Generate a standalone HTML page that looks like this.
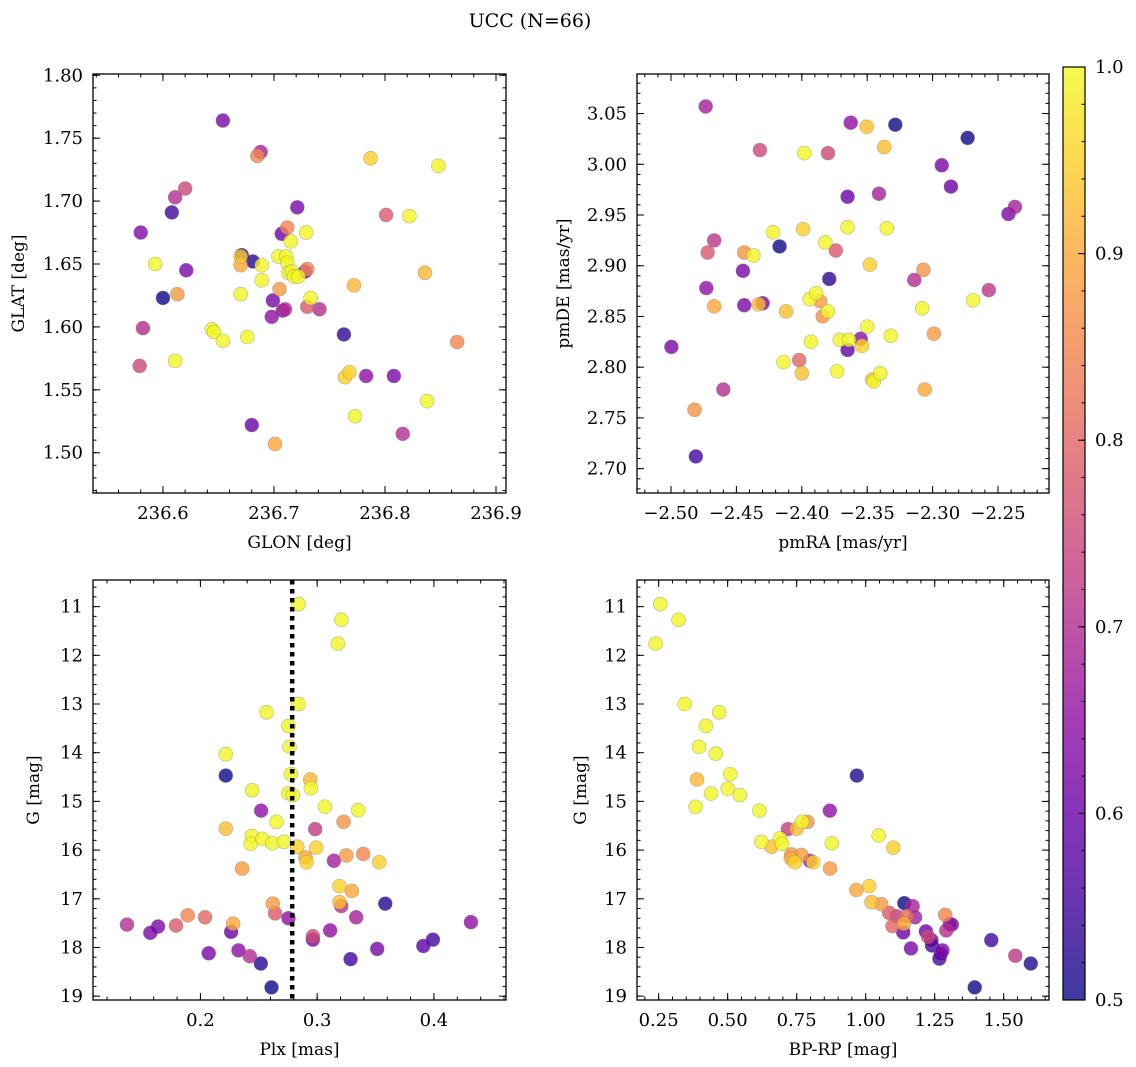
<!DOCTYPE html>
<html><head><meta charset="utf-8"><style>
html,body{margin:0;padding:0;background:#fff;}
svg{display:block;font-family:"DejaVu Serif","Liberation Serif",serif;}
</style></head><body>
<svg id="fig" width="1136" height="1067" viewBox="0 0 1136 1067" xmlns="http://www.w3.org/2000/svg">
<defs>
<linearGradient id="cbgrad" x1="0" y1="1" x2="0" y2="0">
<stop offset="0" stop-color="#0d0887"/><stop offset="0.1" stop-color="#41049d"/><stop offset="0.2" stop-color="#6a00a8"/><stop offset="0.3" stop-color="#8f0da4"/><stop offset="0.4" stop-color="#b12a90"/><stop offset="0.5" stop-color="#cc4778"/><stop offset="0.6" stop-color="#e16462"/><stop offset="0.7" stop-color="#f2844b"/><stop offset="0.8" stop-color="#fca636"/><stop offset="0.9" stop-color="#fcce25"/><stop offset="1" stop-color="#f0f921"/>
</linearGradient>
</defs>
<text x="530" y="27" font-size="19" text-anchor="middle">UCC (N=66)</text>
</svg>
<script>
// ---- Panel 1: GLON vs GLAT ----
const glon=[236.654,236.688,236.685,236.787,236.848,236.620,236.611,236.608,236.580,236.721,236.801,236.822,236.712,236.707,236.729,236.715,236.671,236.670,236.704,236.711,236.712,236.681,236.689,236.670,236.593,236.621,236.730,236.728,236.713,236.716,236.718,236.722,236.689,236.836,236.772,236.600,236.613,236.705,236.670,236.733,236.699,236.730,236.741,236.710,236.708,236.698,236.582,236.644,236.646,236.654,236.676,236.763,236.865,236.611,236.579,236.764,236.768,236.783,236.808,236.838,236.773,236.816,236.680,236.701];
const glat=[1.764,1.739,1.736,1.734,1.728,1.710,1.703,1.691,1.675,1.695,1.689,1.688,1.679,1.674,1.675,1.668,1.657,1.656,1.656,1.656,1.651,1.652,1.649,1.649,1.650,1.645,1.646,1.644,1.643,1.644,1.640,1.640,1.637,1.643,1.633,1.623,1.626,1.630,1.626,1.623,1.621,1.616,1.614,1.614,1.613,1.608,1.599,1.598,1.596,1.589,1.592,1.594,1.588,1.573,1.569,1.560,1.564,1.561,1.561,1.541,1.529,1.515,1.522,1.507];
const prob1=[0.62,0.68,0.85,0.95,0.995,0.75,0.7,0.55,0.63,0.62,0.78,0.995,0.85,0.6,0.995,0.995,0.52,0.95,0.995,0.995,0.995,0.52,0.995,0.9,0.995,0.62,0.85,0.62,0.995,0.995,0.995,0.995,0.995,0.92,0.92,0.5,0.88,0.88,0.995,0.995,0.62,0.78,0.7,0.7,0.62,0.65,0.7,0.995,0.995,0.995,0.995,0.53,0.85,0.995,0.75,0.95,0.95,0.65,0.62,0.995,0.995,0.7,0.6,0.9];
// ---- Panel 2: pmRA vs pmDE ----
const pmra=[-2.4735,-2.3626,-2.3504,-2.3285,-2.2732,-2.432,-2.398,-2.380,-2.337,-2.293,-2.286,-2.365,-2.341,-2.237,-2.242,-2.422,-2.399,-2.365,-2.335,-2.467,-2.472,-2.444,-2.437,-2.417,-2.382,-2.374,-2.348,-2.307,-2.445,-2.379,-2.314,-2.473,-2.257,-2.394,-2.389,-2.386,-2.269,-2.467,-2.444,-2.430,-2.433,-2.412,-2.380,-2.384,-2.308,-2.350,-2.332,-2.299,-2.4997,-2.393,-2.371,-2.364,-2.355,-2.354,-2.365,-2.414,-2.402,-2.400,-2.373,-2.346,-2.345,-2.340,-2.306,-2.460,-2.482,-2.481];
const pmde=[3.057,3.041,3.037,3.039,3.026,3.014,3.011,3.011,3.017,2.999,2.978,2.968,2.971,2.958,2.951,2.933,2.936,2.938,2.937,2.925,2.913,2.913,2.910,2.919,2.923,2.915,2.901,2.896,2.895,2.887,2.886,2.878,2.876,2.867,2.873,2.865,2.866,2.860,2.861,2.863,2.862,2.855,2.855,2.850,2.858,2.840,2.831,2.833,2.820,2.825,2.827,2.827,2.828,2.821,2.817,2.805,2.807,2.794,2.796,2.788,2.786,2.794,2.778,2.778,2.758,2.712];
const prob2=[0.68,0.65,0.93,0.5,0.5,0.75,0.995,0.75,0.93,0.62,0.6,0.6,0.68,0.68,0.62,0.995,0.95,0.995,0.995,0.72,0.78,0.87,0.995,0.5,0.995,0.78,0.95,0.87,0.62,0.53,0.7,0.65,0.72,0.995,0.995,0.88,0.995,0.9,0.62,0.62,0.93,0.93,0.995,0.87,0.995,0.995,0.995,0.88,0.62,0.995,0.995,0.995,0.65,0.95,0.58,0.995,0.8,0.93,0.995,0.93,0.995,0.995,0.9,0.7,0.87,0.55];
// ---- Panel 3: Plx vs G ----
const plx=[0.284,0.3206,0.3177,0.284,0.2566,0.2754,0.2763,0.2217,0.2217,0.2774,0.294,0.2946,0.2443,0.2754,0.2791,0.3066,0.3351,0.252,0.2651,0.3226,0.2217,0.2983,0.244,0.2431,0.2531,0.2617,0.2714,0.2829,0.2991,0.29,0.2909,0.3249,0.3394,0.3531,0.3143,0.2357,0.3191,0.3297,0.3191,0.3206,0.3583,0.262,0.264,0.2754,0.1891,0.204,0.228,0.3334,0.4317,0.1371,0.1791,0.1637,0.1571,0.2263,0.3111,0.2963,0.2963,0.3991,0.3909,0.3514,0.2071,0.2326,0.2423,0.2517,0.3286,0.2609];
const gmag3=[10.95,11.27,11.76,13.0,13.17,13.45,13.88,14.03,14.47,14.44,14.55,14.73,14.77,14.83,14.87,15.11,15.18,15.19,15.42,15.42,15.56,15.57,15.71,15.87,15.77,15.86,15.83,15.93,15.95,16.15,16.25,16.11,16.08,16.25,16.22,16.38,16.74,16.84,17.07,17.15,17.10,17.10,17.30,17.40,17.34,17.38,17.51,17.38,17.48,17.53,17.55,17.57,17.70,17.68,17.65,17.77,17.84,17.84,17.97,18.03,18.12,18.06,18.18,18.33,18.24,18.82];
const prob3=[0.995,0.995,0.995,0.995,0.995,0.995,0.995,0.995,0.5,0.995,0.92,0.995,0.995,0.995,0.995,0.995,0.995,0.65,0.995,0.87,0.93,0.73,0.995,0.995,0.995,0.995,0.995,0.95,0.95,0.9,0.95,0.88,0.85,0.95,0.68,0.88,0.95,0.9,0.93,0.7,0.52,0.88,0.78,0.65,0.85,0.8,0.9,0.68,0.65,0.7,0.78,0.62,0.62,0.6,0.65,0.75,0.62,0.55,0.58,0.62,0.62,0.65,0.7,0.52,0.55,0.5];
const plxLine=0.2786;
// ---- Panel 4: BP-RP vs G ----
const bprp=[0.256,0.322,0.239,0.344,0.469,0.421,0.396,0.457,0.968,0.509,0.389,0.5,0.44,0.544,0.384,0.615,0.87,0.789,0.77,0.718,0.75,1.047,0.622,0.689,0.697,0.659,0.877,1.1,0.731,0.767,0.729,0.798,0.743,0.81,0.871,0.966,1.013,1.021,1.056,1.14,1.17,1.085,1.112,1.148,1.179,1.097,1.138,1.136,1.288,1.305,1.312,1.292,1.218,1.226,1.238,1.24,1.164,1.278,1.272,1.267,1.455,1.542,1.598,1.395];
const gmag4=[10.95,11.27,11.76,13.0,13.17,13.45,13.88,14.02,14.47,14.44,14.55,14.74,14.84,14.87,15.11,15.19,15.19,15.42,15.42,15.57,15.56,15.70,15.83,15.76,15.87,15.93,15.86,15.95,16.09,16.10,16.17,16.22,16.25,16.25,16.38,16.82,16.74,17.07,17.11,17.09,17.15,17.29,17.36,17.36,17.38,17.56,17.51,17.69,17.33,17.52,17.53,17.65,17.67,17.78,17.85,17.96,18.02,18.06,18.13,18.23,17.85,18.17,18.33,18.82];
const prob4=[0.995,0.995,0.995,0.995,0.995,0.995,0.995,0.995,0.52,0.995,0.92,0.995,0.995,0.995,0.995,0.995,0.65,0.87,0.995,0.73,0.93,0.995,0.995,0.995,0.995,0.93,0.995,0.95,0.88,0.88,0.9,0.68,0.95,0.95,0.88,0.9,0.95,0.93,0.88,0.5,0.68,0.78,0.72,0.82,0.68,0.8,0.9,0.6,0.85,0.65,0.62,0.7,0.6,0.75,0.58,0.55,0.62,0.62,0.58,0.55,0.55,0.72,0.52,0.5];
// ---- Tick labels ----
const t1x=[236.6,236.7,236.8,236.9], t1y=[1.50,1.55,1.60,1.65,1.70,1.75,1.80];
const t2x=[-2.50,-2.45,-2.40,-2.35,-2.30,-2.25], t2y=[2.70,2.75,2.80,2.85,2.90,2.95,3.00,3.05];
const t3x=[0.2,0.3,0.4], tGy=[11,12,13,14,15,16,17,18,19];
const t4x=[0.25,0.50,0.75,1.00,1.25,1.50];
const tcb=[0.5,0.6,0.7,0.8,0.9,1.0];

const NS='http://www.w3.org/2000/svg';
const svg=document.getElementById('fig');
function mk(tag,attrs,parent){const e=document.createElementNS(NS,tag);for(const k in attrs)e.setAttribute(k,attrs[k]);(parent||svg).appendChild(e);return e;}
const stops=[[13,8,135],[65,4,157],[106,0,168],[143,13,164],[177,42,144],[204,71,120],[225,100,98],[242,132,75],[252,166,54],[252,206,37],[240,249,33]];
function plasma(p){let t=(p-0.5)/0.5;t=Math.max(0,Math.min(1,t))*10;const i=Math.min(9,Math.floor(t)),f=t-i;const a=stops[i],b=stops[i+1];return 'rgb('+a.map((v,k)=>Math.round(v+(b[k]-v)*f)).join(',')+')';}

function panel(cfg){
  const {x0,y0,w,h,xmin,xmax,ymin,ymax,invY,xt,yt,xminor,yminor,xfmt,yfmt,xlab,ylab,xs,ys,ps,name,ylabX}=cfg;
  const g=mk('g',{});
  
  
  const sx=v=>x0+(v-xmin)/(xmax-xmin)*w;
  const sy=v=>invY? y0+(v-ymin)/(ymax-ymin)*h : y0+h-(v-ymin)/(ymax-ymin)*h;
  const pts=mk('g',{},g);
  
  
  const order=ps.map((p,i)=>i).sort((a,b)=>ps[a]-ps[b]);
  order.forEach(i=>{
    const c=mk('circle',{cx:sx(xs[i]),cy:sy(ys[i]),r:7,fill:plasma(ps[i]),'fill-opacity':0.8,stroke:'#777','stroke-opacity':0.5,'stroke-width':0.6},pts);
    
    
  });
  if(cfg.vline!==undefined){
    const l=mk('line',{x1:sx(cfg.vline),x2:sx(cfg.vline),y1:y0,y2:y0+h,stroke:'#000','stroke-width':4.5,'stroke-dasharray':'4.5,4.5'},g);
    
    
  }
  const tk=mk('g',{stroke:'#000','stroke-width':1},g);
  
  
  const addX=(v,len)=>{const X=sx(v);if(X<x0-0.1||X>x0+w+0.1)return;mk('line',{x1:X,x2:X,y1:y0+h,y2:y0+h-len},tk);mk('line',{x1:X,x2:X,y1:y0,y2:y0+len},tk);};
  const addY=(v,len)=>{const Y=sy(v);if(Y<y0-0.1||Y>y0+h+0.1)return;mk('line',{x1:x0,x2:x0+len,y1:Y,y2:Y},tk);mk('line',{x1:x0+w,x2:x0+w-len,y1:Y,y2:Y},tk);};
  for(let v=Math.ceil(xmin/xminor)*xminor;v<=xmax;v+=xminor)addX(v,3.5);
  for(let v=Math.ceil(ymin/yminor)*yminor;v<=ymax;v+=yminor)addY(v,3.5);
  xt.forEach(v=>{addX(v,7);const X=sx(v);if(X<x0-1||X>x0+w+30)return;const t=mk('text',{x:X,y:y0+h+26,'font-size':18,'text-anchor':'middle'},g);t.textContent=xfmt(v);});
  yt.forEach(v=>{addY(v,7);const Y=sy(v);if(Y<y0-8||Y>y0+h+8)return;const t=mk('text',{x:x0-10,y:Y+6,'font-size':18,'text-anchor':'end'},g);t.textContent=yfmt(v);});
  const fr=mk('rect',{x:x0,y:y0,width:w,height:h,fill:'none',stroke:'#000','stroke-width':1.3},g);
  
  
  const xl=mk('text',{x:x0+w/2,y:y0+h+55,'font-size':17,'text-anchor':'middle'},g);xl.textContent=xlab;
  
  
  const yl=mk('text',{x:ylabX,y:y0+h/2,'font-size':17,'text-anchor':'middle',transform:'rotate(-90 '+ylabX+' '+(y0+h/2)+')'},g);yl.textContent=ylab;
  
  
}
panel({name:'glon-glat-panel',x0:93,y0:74,w:413,h:419,xmin:236.537,xmax:236.909,ymin:1.468,ymax:1.801,xt:t1x,yt:t1y,xminor:0.02,yminor:0.01,xfmt:v=>v.toFixed(1),yfmt:v=>v.toFixed(2),xlab:'GLON [deg]',ylab:'GLAT [deg]',xs:glon,ys:glat,ps:prob1,ylabX:24});
panel({name:'pm-panel',x0:637,y0:74,w:412,h:419,xmin:-2.526,xmax:-2.211,ymin:2.676,ymax:3.089,xt:t2x,yt:t2y,xminor:0.01,yminor:0.01,xfmt:v=>'\u2212'+Math.abs(v).toFixed(2),yfmt:v=>v.toFixed(2),xlab:'pmRA [mas/yr]',ylab:'pmDE [mas/yr]',xs:pmra,ys:pmde,ps:prob2,ylabX:569});
panel({name:'plx-g-panel',x0:93,y0:580,w:413,h:420,xmin:0.108,xmax:0.4617,ymin:10.453,ymax:19.079,invY:true,xt:t3x,yt:tGy,xminor:0.02,yminor:0.2,xfmt:v=>v.toFixed(1),yfmt:v=>String(v),xlab:'Plx [mas]',ylab:'G [mag]',xs:plx,ys:gmag3,ps:prob3,ylabX:39,vline:plxLine});
panel({name:'cmd-panel',x0:637,y0:580,w:412,h:420,xmin:0.1716,xmax:1.664,ymin:10.453,ymax:19.079,invY:true,xt:t4x,yt:tGy,xminor:0.05,yminor:0.2,xfmt:v=>v.toFixed(2),yfmt:v=>String(v),xlab:'BP-RP [mag]',ylab:'G [mag]',xs:bprp,ys:gmag4,ps:prob4,ylabX:586});
const cbx=1063,cby=67,cbw=22,cbh=933;
const cb=mk('g',{});


mk('rect',{x:cbx,y:cby,width:cbw,height:cbh,fill:'url(#cbgrad)','fill-opacity':0.8},cb);
mk('rect',{x:cbx,y:cby,width:cbw,height:cbh,fill:'none',stroke:'#000','stroke-width':1.2},cb);
const cys=v=>cby+cbh-(v-0.5)/0.5*cbh;
for(let i=0;i<=25;i++){const v=0.5+i*0.02;mk('line',{x1:cbx+cbw,x2:cbx+cbw-3.5,y1:cys(v),y2:cys(v),stroke:'#000'},cb);}
tcb.forEach(v=>{mk('line',{x1:cbx+cbw,x2:cbx+cbw-7,y1:cys(v),y2:cys(v),stroke:'#000'},cb);const t=mk('text',{x:1095,y:cys(v)+6,'font-size':18},cb);t.textContent=v.toFixed(1);});
</script>
</body></html>
